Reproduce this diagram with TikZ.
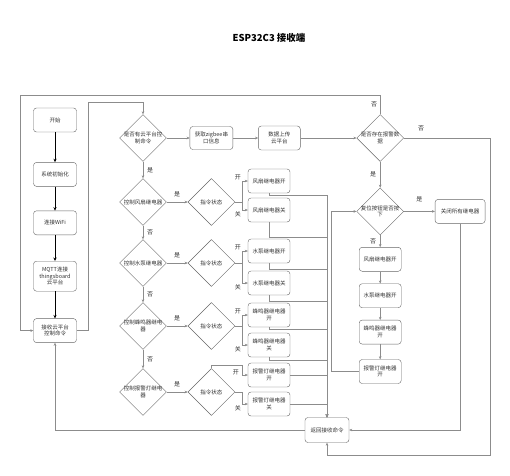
\documentclass[tikz,border=0pt]{standalone}
\usepackage{fontspec}
\setmainfont{Noto Sans CJK SC}
\usepackage{tikz}
\usetikzlibrary{arrows.meta, positioning, shapes.geometric}

\begin{document}
\begin{tikzpicture}[
        x=1pt, y=-1pt,
        node distance=26pt,
        every node/.style={font=\fontsize{5.5}{6.6}\selectfont, text=black!80},
        stepbox/.style={draw=black!60, rounded corners=3pt, fill=white, align=center, minimum width=43pt, minimum height=24pt, inner sep=1pt},
        decision/.style={draw=black!60, diamond, fill=white, align=center, minimum width=47pt, minimum height=47pt, inner sep=-5pt},
        line/.style={draw=black!45, -{Stealth[length=3pt, width=2.6pt]}},
        mainline/.style={draw=black, line width=0.9pt, -{Stealth[length=3.5pt, width=3.2pt]}},
        tag/.style={font=\fontsize{6}{7}\selectfont, inner sep=1pt}
    ]
        \fill[white] (0,0) rectangle (510,475);
        \useasboundingbox (0,0) rectangle (510,475);

        % Title
        \node[font=\bfseries\fontsize{9.5}{11}\selectfont, text=black] (title) at (269,38) {ESP32C3 接收端};

        % Start-up column
        \node[stepbox] (start) at (55,120) {开始};
        \node[stepbox, below=30pt of start] (init) {系统初始化};
        \node[stepbox, below=24pt of init] (wifi) {连接WiFi};
        \node[stepbox, below=26pt of wifi, minimum height=30pt] (mqtt) {MQTT连接\\thingsboard\\云平台};
        \node[stepbox, below=27pt of mqtt] (recv) {接收云平台\\控制命令};

        % Command checks
        \node[decision] (cmd) at (143,138) {是否有云平台控\\制命令};
        \node[decision] (fan) at (143,202) {控制风扇继电器};
        \node[decision] (pump) at (143,263) {控制水泵继电器};
        \node[decision] (buzz) at (143,326) {控制蜂鸣器继电\\器};
        \node[decision] (lamp) at (143,392) {控制报警灯继电\\器};

        \node[decision, right=21pt of fan] (fanstate) {指令状态};
        \node[decision, right=21pt of pump] (pumpstate) {指令状态};
        \node[decision, right=21pt of buzz] (buzzstate) {指令状态};
        \node[decision, right=21pt of lamp] (lampstate) {指令状态};

        % Relay switching
        \node[stepbox, minimum width=42pt] (fanon) at (269,181) {风扇继电器开};
        \node[stepbox, minimum width=42pt] (fanoff) at (269,210) {风扇继电器关};
        \node[stepbox, minimum width=42pt] (pumpon) at (269,251) {水泵继电器开};
        \node[stepbox, minimum width=42pt] (pumpoff) at (269,283) {水泵继电器关};
        \node[stepbox, minimum width=42pt] (buzzon) at (269,315) {蜂鸣器继电器\\开};
        \node[stepbox, minimum width=42pt] (buzzoff) at (269,345) {蜂鸣器继电器\\关};
        \node[stepbox, minimum width=42pt] (lampon) at (269,375) {报警灯继电器\\开};
        \node[stepbox, minimum width=42pt] (lampoff) at (269,404) {报警灯继电器\\关};

        % Sensor data and alarm
        \node[stepbox, right=23pt of cmd, minimum height=23pt] (zig) {获取zigbee串\\口信息};
        \node[stepbox, right=25pt of zig, minimum width=42pt] (upload) {数据上传\\云平台};
        \node[decision, right=56pt of upload] (alarm) {是否存在报警数\\据};
        \node[decision, below=26pt of alarm] (reset) {复位按钮是否按\\下};
        \node[stepbox, right=31pt of reset, minimum width=50pt] (alloff) {关闭所有继电器};
        \node[stepbox, below=12pt of reset, minimum width=42pt] (rfan) {风扇继电器开};
        \node[stepbox, below=12pt of rfan, minimum width=42pt] (rpump) {水泵继电器开};
        \node[stepbox, below=12pt of rpump, minimum width=42pt] (rbuzz) {蜂鸣器继电器\\开};
        \node[stepbox, below=15pt of rbuzz, minimum width=42pt] (rlamp) {报警灯继电器\\开};

        \node[stepbox, minimum width=44pt, minimum height=25pt] (ret) at (327,430) {返回接收命令};

        % Start-up flow
        \draw[mainline] (start) -- (init);
        \draw[mainline] (init) -- (wifi);
        \draw[mainline] (wifi) -- (mqtt);
        \draw[mainline] (mqtt) -- (recv);

        \draw[line] (recv.east) -| (88,102) -| (cmd.north);
        \draw[line] (cmd) -- (zig);
        \draw[line] (zig) -- (upload);
        \draw[line] (upload) -- (alarm);

        % Relay decisions
        \draw[line] (cmd) -- node[tag, right=3pt] {是} (fan);
        \draw[line] (fan) -- node[tag, right=3pt] {否} (pump);
        \draw[line] (pump) -- node[tag, right=3pt] {否} (buzz);
        \draw[line] (buzz) -- node[tag, right=3pt] {否} (lamp);
        \draw[line] (fan) -- node[tag, above=4pt] {是} (fanstate);
        \draw[line] (pump) -- node[tag, above=4pt] {是} (pumpstate);
        \draw[line] (buzz) -- node[tag, above=4pt] {是} (buzzstate);
        \draw[line] (lamp) -- node[tag, above=4pt] {是} (lampstate);

        \draw[line] (fanstate.east) -- ++(7,0) |- node[tag, pos=0.5, above left] {开} (fanon.west);
        \draw[line] (fanstate.east) -- ++(7,0) |- node[tag, pos=0.5, below left] {关} (fanoff.west);
        \draw[line] (pumpstate.east) -- ++(7,0) |- node[tag, pos=0.5, above left] {开} (pumpon.west);
        \draw[line] (pumpstate.east) -- ++(7,0) |- node[tag, pos=0.5, below left] {关} (pumpoff.west);
        \draw[line] (buzzstate.east) -- ++(7,0) |- node[tag, pos=0.5, above left] {开} (buzzon.west);
        \draw[line] (buzzstate.east) -- ++(7,0) |- node[tag, pos=0.5, below left] {关} (buzzoff.west);
        \draw[line] (lampstate.north) |- (242,365) |- node[tag, pos=0.5, left=2pt, yshift=3pt] {开} (lampon.west);
        \draw[line] (lampstate.east) -- ++(7,0) |- node[tag, pos=0.5, below left] {关} (lampoff.west);

        % Back to the return step
        \draw[line] (fanon.south) -- ++(0,2) -| (ret.north);
        \draw[line] (fanoff.south) -- ++(0,15) -| (ret.north);
        \draw[line] (pumpon.south) -- ++(0,6) -| (ret.north);
        \draw[line] (pumpoff.south) -- ++(0,6) -| (ret.north);
        \draw[line] (buzzon.south) -- ++(0,2) -| (ret.north);
        \draw[line] (buzzoff.south) -- ++(0,3) -| (ret.north);
        \draw[line] (lampon.east) -| (ret.north);
        \draw[line] (lampoff.east) -| (ret.north);

        % Alarm handling
        \draw[line] (alarm.north) |- node[tag, pos=0.25, left=2pt] {否} (20,95) |- (recv.west);
        \draw[line] (alarm.east) -| node[tag, pos=0.1, above=6pt] {否} (490,455) -| (ret.south);
        \draw[line] (alarm) -- node[tag, left=3pt] {是} (reset);
        \draw[line] (reset) -- node[tag, above=8pt] {是} (alloff);
        \draw[line] (reset) -- node[tag, left=3pt] {否} (rfan);
        \draw[line] (rfan) -- (rpump);
        \draw[line] (rpump) -- (rbuzz);
        \draw[line] (rbuzz) -- (rlamp);
        \draw[line] (rlamp.west) -- ++(-28,0) |- (reset.west);
        \draw[line] (alloff.south) |- (ret.east);
        \draw[line] (ret.west) -| (recv.south);
    \end{tikzpicture}
\end{document}
